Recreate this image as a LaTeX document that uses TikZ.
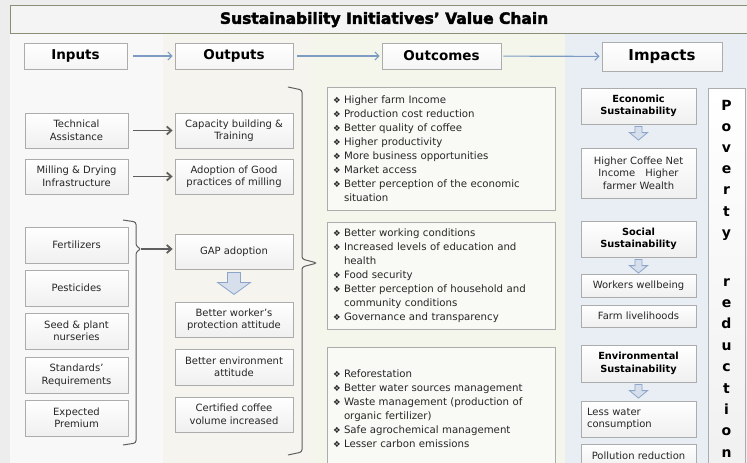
\documentclass[tikz,border=0pt]{standalone}
\usepackage{fontspec}
\setmainfont{DejaVu Sans}
\newfontfamily\titlefont[FakeBold=2.5]{DejaVu Sans Bold}
\usetikzlibrary{arrows.meta}
\definecolor{pagegray}{RGB}{237,237,237}
\definecolor{colinput}{RGB}{248,248,248}
\definecolor{coloutput}{RGB}{245,244,239}
\definecolor{coloutcome}{RGB}{244,246,236}
\definecolor{colimpact}{RGB}{233,238,245}
\definecolor{titleframe}{RGB}{138,144,118}
\definecolor{headarrow}{RGB}{125,155,195}
\definecolor{linkgray}{RGB}{95,95,95}
\definecolor{boxedge}{RGB}{172,172,172}
\definecolor{blockblue}{RGB}{140,165,200}
\tikzset{
  vcbox/.style={rectangle, draw=boxedge, line width=0.8pt, top color=white,
                bottom color=black!6, align=center, inner sep=2pt, text=black!85,
                font=\fontsize{10}{12.5}\selectfont},
  vchead/.style={vcbox, minimum height=26pt, bottom color=black!4, text=black,
                 font=\fontsize{13.5}{15}\selectfont\bfseries},
  inbox/.style ={vcbox, minimum width=103pt, minimum height=35pt},
  outbox/.style={vcbox, minimum width=118pt, minimum height=35pt},
  impbox/.style={vcbox, minimum width=115pt},
  impkey/.style={impbox, minimum height=36pt, text=black,
                 font=\fontsize{9.8}{12.5}\selectfont\bfseries},
  listbox/.style={rectangle, draw=boxedge, line width=0.8pt,
                  fill=coloutcome!55!white, minimum width=228pt,
                  text width=216pt, inner xsep=6pt, align=left, text=black!85,
                  font=\fontsize{10.2}{14}\selectfont},
  povletter/.style={inner sep=0pt, font=\fontsize{14}{14}\selectfont\bfseries},
  headlink/.style={-{Straight Barb[length=4pt,width=8pt]}, line width=1.1pt, headarrow},
  inlink/.style  ={-{Straight Barb[length=4.5pt,width=8pt]}, line width=1.8pt, linkgray},
  brace/.style   ={draw=linkgray, line width=1pt, rounded corners=2.5pt},
  blockarrow/.style={draw=blockblue, line width=0.8pt, fill=blockblue!35!white},
  pics/downarr/.style={code={
    \draw[blockarrow] (-6.5,0) -- (6.5,0) -- (6.5,10) -- (16.5,10) -- (0,22)
                      -- (-16.5,10) -- (-6.5,10) -- cycle;}},
}
% one bulleted line of an outcome list, wrapped lines hang under the text
\newcommand{\itm}[1]{\hangindent=11pt\hangafter=1\noindent
  \makebox[11pt][l]{\fontsize{8.5}{8}\selectfont\raisebox{0.2pt}{❖}}#1\par}

\begin{document}
\begin{tikzpicture}[x=1pt, y=-1pt]
  \useasboundingbox (0,0) rectangle (747,463);

  % ---- page and column backgrounds -----------------------------------------
  \fill[pagegray] (0,0) rectangle (747,463);
  \fill[colinput]   (10,33)  rectangle (163,463);
  \fill[coloutput]  (163,33) rectangle (313,463);
  \fill[coloutcome] (313,33) rectangle (565,463);
  \fill[colimpact]  (565,33) rectangle (747,463);

  \node[draw=titleframe, line width=1.2pt, fill=pagegray!60!white,
        minimum width=747pt, minimum height=28pt, anchor=north west,
        inner sep=0pt] (titlebar) at (10,5) {};
  \node[font=\titlefont\fontsize{15.5}{17}\selectfont] (title) at (titlebar.center)
    {Sustainability Initiatives’ Value Chain};

  % ---- column heads ----------------------------------------------------------
  \node[vchead, minimum width=103pt] (hInputs)   at (75.5,56)  {Inputs};
  \node[vchead, minimum width=118pt] (hOutputs)  at (234,56)   {Outputs};
  \node[vchead, minimum width=119pt] (hOutcomes) at (441.5,56) {Outcomes};
  \node[vchead, minimum width=120pt, minimum height=29pt,
        font=\fontsize{15}{17}\selectfont\bfseries] (hImpacts) at (662,56.5) {Impacts};

  \draw[headlink, shorten <=6pt, shorten >=2pt] (hInputs)   -- (hOutputs);
  \draw[headlink, shorten <=4pt, shorten >=2pt] (hOutputs)  -- (hOutcomes);
  \draw[headlink, shorten <=2pt, shorten >=2pt] (hOutcomes) -- (hImpacts);

  % ---- inputs ----------------------------------------------------------------
  \node[inbox] (inTech) at (76.5,130.5) {Technical\\Assistance};
  \node[inbox] (inMill) at (76.5,176.5) {Milling \& Drying\\Infrastructure};
  \node[inbox, minimum height=36pt] (inFert) at (76.5,245) {Fertilizers};
  \node[inbox, minimum height=36pt] (inPest) at (76.5,288) {Pesticides};
  \node[inbox, minimum height=36pt] (inSeed) at (76.5,331) {Seed \& plant\\nurseries};
  \node[inbox, minimum height=36pt] (inStd)  at (76.5,375) {Standards’\\Requirements};
  \node[inbox, minimum height=36pt] (inPrem) at (76.5,418) {Expected\\Premium};

  % ---- outputs ---------------------------------------------------------------
  \node[outbox] (outCap)  at (234,130.5) {Capacity building \&\\Training};
  \node[outbox] (outMill) at (234,176.5) {Adoption of Good\\practices of milling};
  \node[outbox] (outGap)  at (234,251.5) {GAP adoption};
  \node[outbox] (outWork) at (234,319.5) {Better worker’s\\protection attitude};
  \node[outbox, minimum height=36pt] (outEnv) at (234,367) {Better environment\\attitude};
  \node[outbox] (outCert) at (234,414.5) {Certified coffee\\volume increased};
  \pic at ([yshift=-3pt]outGap.south) {downarr};

  \draw[inlink, shorten <=5pt, shorten >=2pt] (inTech) -- (outCap);
  \draw[inlink, shorten <=5pt, shorten >=2pt] (inMill) -- (outMill);

  % brace over the farm inputs, feeding GAP adoption
  \coordinate (gapNub) at (141,249);
  \draw[brace] (123,220) -- (136,222) -- (136,246) -- (gapNub) -- (136,252)
               -- (136,443) -- (123,445);
  \draw[inlink, shorten >=2pt] (gapNub) -- (gapNub -| outGap.west);

  % brace over all outputs
  \coordinate (outNub) at (317,263);
  \draw[brace] (288,87) -- (302,90) -- (302,259) -- (outNub) -- (302,267)
               -- (302,452) -- (288,455);

  % ---- outcomes --------------------------------------------------------------
  \node[listbox, minimum height=123pt] (ocEcon) at (441,148.5) {%
    \itm{Higher farm Income}
    \itm{Production cost reduction}
    \itm{Better quality of coffee}
    \itm{Higher productivity}
    \itm{More business opportunities}
    \itm{Market access}
    \itm{Better perception of the economic\newline situation}};
  \node[listbox, minimum height=107pt] (ocSoc) at (441,275.5) {%
    \itm{Better working conditions}
    \itm{Increased levels of education and\newline health}
    \itm{Food security}
    \itm{Better perception of household and\newline community conditions}
    \itm{Governance and transparency}};
  \node[listbox, minimum height=123pt] (ocEnv) at (441,408.5) {%
    \itm{Reforestation}
    \itm{Better water sources management}
    \itm{Waste management (production of\newline organic fertilizer)}
    \itm{Safe agrochemical management}
    \itm{Lesser carbon emissions}};

  % ---- impacts ---------------------------------------------------------------
  \node[impkey] (imEcon) at (638.5,106) {Economic\\Sustainability};
  \node[impbox, minimum height=50pt] (imIncome) at (638.5,173)
    {Higher Coffee Net\\Income\quad Higher\\farmer Wealth};
  \node[impkey] (imSoc) at (638.5,239) {Social\\Sustainability};
  \node[impbox, minimum height=23pt] (imWork) at (638.5,285.5) {Workers wellbeing};
  \node[impbox, minimum height=22pt] (imFarm) at (638.5,316) {Farm livelihoods};
  \node[impkey, minimum height=37pt] (imEnv) at (638.5,363.5) {Environmental\\Sustainability};
  \node[impbox, minimum height=36pt, text width=103pt, align=left] (imWater)
    at (638.5,419) {Less water\\consumption};
  \node[impbox, minimum height=23pt] (imPoll) at (638.5,455.5) {Pollution reduction};

  \pic[xscale=.55, yscale=.62] at ([yshift=-2pt]imEcon.south) {downarr};
  \pic[xscale=.55, yscale=.62] at ([yshift=-2pt]imSoc.south)  {downarr};
  \pic[xscale=.55, yscale=.62] at ([yshift=-2pt]imEnv.south)  {downarr};

  % poverty reduction, spelled down the last column
  \node[vcbox, minimum width=37pt, minimum height=395pt, anchor=north] (povcol)
    at (726.5,88) {};
  \foreach \ch [count=\k from 0] in {P,o,v,e,r,t,y}
    \node[povletter, anchor=base] (pv\k) at (726.5,{110+21.2*\k}) {\ch};
  \foreach \ch [count=\k from 0] in {r,e,d,u,c,t,i,o,n}
    \node[povletter, anchor=base] (rd\k) at (726.5,{286+21.4*\k}) {\ch};
\end{tikzpicture}
\end{document}
